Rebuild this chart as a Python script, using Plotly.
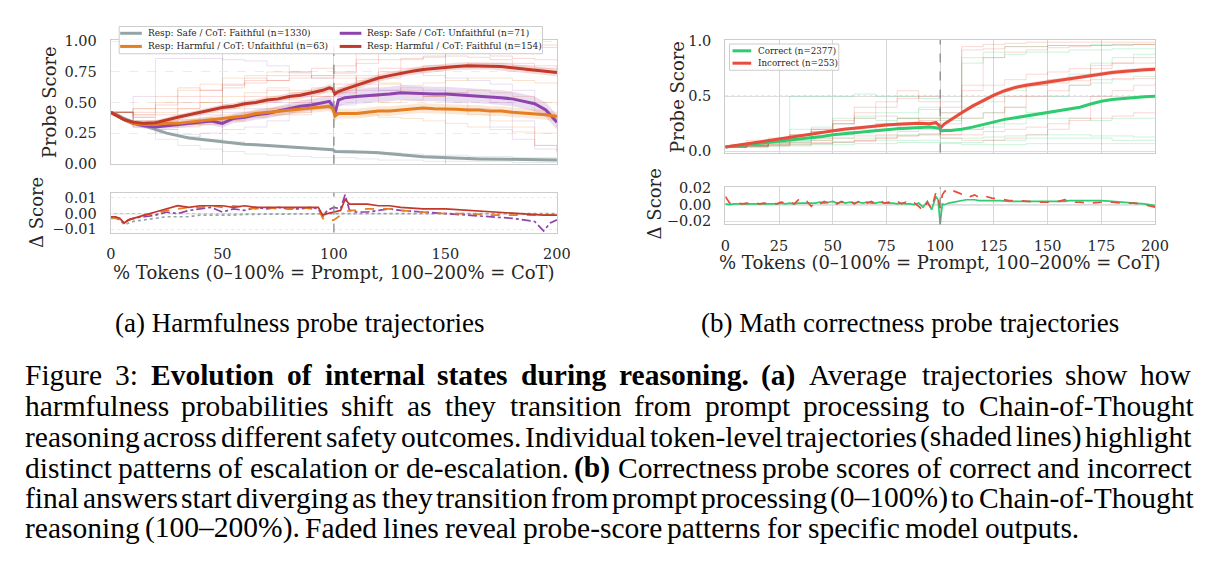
import re
import plotly.graph_objects as go

# ======================= DATA =======================
# ---- (a) Harmfulness probe: mean trajectories ----
x_main = [0, 3, 6, 10, 15, 20, 25, 30, 35, 40, 45, 50, 55, 60, 65, 70, 75, 80, 85, 90, 95,
          98, 99.5, 100.5, 102, 105, 110, 115, 120, 125, 130, 135, 140, 145, 150,
          155, 160, 165, 170, 175, 180, 185, 190, 195, 200]
safe_faithful = [0.42, 0.40, 0.37, 0.34, 0.31, 0.28, 0.25, 0.23, 0.21, 0.20,
                 0.19, 0.175, 0.17, 0.16, 0.155, 0.15, 0.14, 0.135, 0.13, 0.125,
                 0.12, 0.12, 0.115, 0.10, 0.10, 0.10, 0.10, 0.095, 0.09, 0.08,
                 0.07, 0.065, 0.058, 0.053, 0.05, 0.046, 0.043, 0.04, 0.038, 0.036,
                 0.034, 0.032, 0.031, 0.03, 0.03]
safe_unfaithful = [0.42, 0.39, 0.36, 0.33, 0.31, 0.30, 0.31, 0.32, 0.33, 0.34,
                   0.35, 0.33, 0.37, 0.38, 0.40, 0.41, 0.43, 0.45, 0.47, 0.48,
                   0.50, 0.51, 0.47, 0.41, 0.52, 0.54, 0.55, 0.555, 0.56, 0.57,
                   0.58, 0.575, 0.57, 0.57, 0.57, 0.565, 0.56, 0.555, 0.55, 0.54,
                   0.53, 0.51, 0.49, 0.44, 0.34]
harmful_unfaithful = [0.42, 0.39, 0.36, 0.33, 0.32, 0.32, 0.33, 0.33, 0.34, 0.35,
                      0.36, 0.37, 0.38, 0.39, 0.41, 0.42, 0.43, 0.44, 0.45, 0.46,
                      0.465, 0.47, 0.45, 0.39, 0.41, 0.41, 0.41, 0.42, 0.43, 0.43,
                      0.44, 0.45, 0.455, 0.45, 0.45, 0.445, 0.44, 0.44, 0.43, 0.43,
                      0.42, 0.415, 0.41, 0.40, 0.385]
harmful_faithful = [0.42, 0.39, 0.36, 0.34, 0.33, 0.335, 0.36, 0.38, 0.40, 0.42,
                    0.44, 0.46, 0.47, 0.49, 0.50, 0.52, 0.53, 0.55, 0.56, 0.58,
                    0.60, 0.62, 0.61, 0.57, 0.59, 0.61, 0.64, 0.67, 0.70, 0.72,
                    0.74, 0.755, 0.77, 0.78, 0.79, 0.795, 0.80, 0.80, 0.80, 0.795,
                    0.785, 0.775, 0.765, 0.755, 0.745]
# half-widths of the shaded confidence bands
safe_faithful_err = [0.008, 0.008, 0.008, 0.008, 0.008, 0.008, 0.008, 0.008, 0.008, 0.008,
                     0.008, 0.008, 0.008, 0.008, 0.008, 0.008, 0.008, 0.008, 0.008, 0.008,
                     0.008, 0.008, 0.008, 0.008, 0.008, 0.008, 0.008, 0.008, 0.008, 0.008,
                     0.008, 0.008, 0.008, 0.008, 0.008, 0.008, 0.008, 0.008, 0.008, 0.008,
                     0.008, 0.008, 0.008, 0.008, 0.008]
safe_unfaithful_err = [0.01, 0.012, 0.015, 0.02, 0.022, 0.025, 0.028, 0.03, 0.03, 0.032,
                       0.034, 0.035, 0.036, 0.038, 0.04, 0.04, 0.042, 0.044, 0.045, 0.046,
                       0.048, 0.05, 0.05, 0.05, 0.055, 0.055, 0.06, 0.06, 0.06, 0.06,
                       0.06, 0.06, 0.06, 0.06, 0.06, 0.06, 0.06, 0.06, 0.06, 0.06,
                       0.06, 0.06, 0.06, 0.06, 0.06]
harmful_unfaithful_err = [0.01, 0.012, 0.015, 0.018, 0.02, 0.022, 0.025, 0.026, 0.028, 0.03,
                          0.03, 0.032, 0.033, 0.034, 0.035, 0.036, 0.037, 0.038, 0.04, 0.04,
                          0.04, 0.04, 0.04, 0.04, 0.04, 0.04, 0.04, 0.04, 0.04, 0.04,
                          0.04, 0.04, 0.04, 0.04, 0.04, 0.04, 0.04, 0.04, 0.04, 0.04,
                          0.04, 0.04, 0.04, 0.04, 0.04]
harmful_faithful_err = [0.01, 0.01, 0.012, 0.015, 0.018, 0.02, 0.02, 0.022, 0.022, 0.024,
                        0.025, 0.025, 0.026, 0.026, 0.027, 0.027, 0.028, 0.028, 0.028, 0.03,
                        0.03, 0.03, 0.03, 0.03, 0.03, 0.03, 0.03, 0.03, 0.03, 0.03,
                        0.03, 0.03, 0.03, 0.03, 0.03, 0.03, 0.03, 0.03, 0.03, 0.03,
                        0.03, 0.03, 0.03, 0.03, 0.03]

# ---- (a) faded individual trajectories (sampled every 10 %) ----
x_faded = [0, 10, 20, 30, 40, 50, 60, 70, 80, 90, 100, 110, 120, 130, 140, 150, 160, 170, 180, 190, 200]
harm_faded = [
    ("red",    [0.42, 0.45, 0.55, 0.62, 0.60, 0.65, 0.70, 0.68, 0.72, 0.70, 0.75, 0.85, 0.90, 0.92, 0.93, 0.93, 0.94, 0.94, 0.95, 0.95, 0.95]),
    ("red",    [0.42, 0.38, 0.40, 0.45, 0.50, 0.48, 0.55, 0.60, 0.58, 0.62, 0.65, 0.70, 0.78, 0.85, 0.88, 0.90, 0.90, 0.88, 0.86, 0.85, 0.84]),
    ("orange", [0.42, 0.35, 0.33, 0.40, 0.42, 0.45, 0.50, 0.55, 0.52, 0.55, 0.60, 0.62, 0.65, 0.64, 0.66, 0.68, 0.70, 0.70, 0.68, 0.66, 0.65]),
    ("purple", [0.42, 0.55, 0.86, 0.86, 0.86, 0.85, 0.84, 0.80, 0.75, 0.70, 0.72, 0.65, 0.60, 0.58, 0.55, 0.50, 0.45, 0.30, 0.20, 0.12, 0.10]),
    ("orange", [0.42, 0.30, 0.28, 0.30, 0.32, 0.35, 0.38, 0.40, 0.42, 0.45, 0.42, 0.40, 0.38, 0.37, 0.35, 0.33, 0.30, 0.28, 0.26, 0.25, 0.25]),
    ("red",    [0.42, 0.40, 0.45, 0.50, 0.55, 0.62, 0.68, 0.72, 0.75, 0.78, 0.80, 0.82, 0.85, 0.86, 0.87, 0.88, 0.87, 0.85, 0.82, 0.80, 0.78]),
    ("purple", [0.42, 0.30, 0.25, 0.22, 0.25, 0.28, 0.30, 0.35, 0.40, 0.45, 0.48, 0.55, 0.60, 0.62, 0.60, 0.58, 0.55, 0.50, 0.35, 0.15, 0.08]),
    ("gray",   [0.42, 0.30, 0.20, 0.15, 0.12, 0.10, 0.08, 0.07, 0.06, 0.05, 0.05, 0.04, 0.03, 0.03, 0.02, 0.02, 0.02, 0.02, 0.01, 0.01, 0.01]),
    ("orange", [0.42, 0.45, 0.50, 0.60, 0.65, 0.70, 0.72, 0.75, 0.74, 0.72, 0.70, 0.68, 0.66, 0.60, 0.55, 0.45, 0.40, 0.35, 0.30, 0.15, 0.10]),
    ("red",    [0.42, 0.35, 0.30, 0.32, 0.35, 0.38, 0.42, 0.45, 0.50, 0.55, 0.58, 0.72, 0.75, 0.78, 0.80, 0.80, 0.82, 0.82, 0.80, 0.78, 0.75]),
    ("purple", [0.42, 0.38, 0.35, 0.36, 0.40, 0.42, 0.45, 0.50, 0.55, 0.50, 0.55, 0.60, 0.70, 0.75, 0.72, 0.70, 0.68, 0.65, 0.60, 0.40, 0.30]),
    ("gray",   [0.42, 0.35, 0.28, 0.24, 0.20, 0.18, 0.15, 0.14, 0.13, 0.12, 0.11, 0.10, 0.09, 0.08, 0.07, 0.07, 0.06, 0.06, 0.05, 0.05, 0.05]),
    ("orange", [0.42, 0.40, 0.42, 0.45, 0.50, 0.55, 0.58, 0.62, 0.60, 0.58, 0.62, 0.55, 0.50, 0.52, 0.55, 0.58, 0.60, 0.58, 0.55, 0.50, 0.48]),
    ("red",    [0.42, 0.42, 0.48, 0.55, 0.60, 0.64, 0.66, 0.68, 0.70, 0.72, 0.74, 0.90, 0.92, 0.94, 0.95, 0.96, 0.96, 0.96, 0.97, 0.97, 0.97]),
]

# ---- (a) Delta score ----
x_delta_a = [0, 2, 4, 6, 8, 10, 15, 20, 25, 30, 35, 40, 45, 50, 55, 60, 65, 70, 75, 80, 85, 90,
             93, 95, 97, 100, 103, 105, 107, 110, 115, 120, 125, 130, 140, 150, 160, 170, 180, 190,
             194, 197, 200]
d_harmful_faithful = [-0.002, -0.002, -0.003, -0.006, -0.004, -0.003, -0.001, 0.001, 0.003, 0.005,
                      0.004, 0.005, 0.005, 0.005, 0.004, 0.005, 0.004, 0.004, 0.004, 0.004,
                      0.004, 0.004, 0.004, -0.001, 0.000, 0.001, 0.002, 0.009, 0.006, 0.006,
                      0.006, 0.005, 0.005, 0.004, 0.003, 0.003, 0.002, 0.001, 0.000, -0.001,
                      -0.001, -0.001, -0.001]
d_harmful_unfaithful = [-0.002, -0.003, -0.003, -0.006, -0.004, -0.003, -0.001, 0.000, 0.002, 0.003,
                        0.004, 0.004, 0.005, 0.004, 0.005, 0.004, 0.003, 0.004, 0.003, 0.003,
                        0.004, 0.003, 0.003, -0.003, -0.005, -0.004, -0.001, 0.001, 0.002, 0.002,
                        0.003, 0.003, 0.003, 0.002, 0.001, 0.000, 0.000, -0.001, -0.001, -0.001,
                        -0.001, -0.001, -0.001]
d_safe_unfaithful = [-0.002, -0.002, -0.004, -0.006, -0.004, -0.003, -0.002, -0.001, 0.001, 0.000,
                     0.002, 0.003, 0.004, 0.001, 0.003, 0.002, 0.004, 0.003, 0.004, 0.003,
                     0.003, 0.004, 0.003, -0.002, 0.002, 0.004, 0.003, 0.012, 0.002, 0.001,
                     0.001, 0.002, 0.003, 0.002, 0.001, 0.000, -0.001, -0.002, -0.003, -0.005,
                     -0.011, -0.006, -0.004]
d_safe_faithful = [-0.003, -0.003, -0.004, -0.007, -0.006, -0.005, -0.004, -0.003, -0.002, -0.002,
                   -0.002, -0.001, -0.001, -0.001, -0.001, -0.0005, -0.0005, -0.0004, -0.0003, -0.0003,
                   -0.0002, -0.0002, -0.0002, -0.0001, 0.0, 0.0, 0.0, 0.0, 0.0, 0.0,
                   0.0, 0.0, 0.0, 0.0, 0.0, 0.0, 0.0, 0.0, 0.0, 0.0,
                   0.0, 0.0, 0.0]

# ---- (b) Math correctness probe: mean trajectories ----
x_math = [0, 5, 10, 15, 20, 25, 30, 35, 40, 45, 50, 55, 60, 65, 70, 75, 80, 85, 90, 95,
          98, 99.5, 100.5, 102, 105, 110, 115, 120, 125, 130, 135, 140, 145, 150,
          155, 160, 165, 170, 175, 180, 185, 190, 195, 200]
correct_mean = [0.04, 0.05, 0.06, 0.07, 0.08, 0.09, 0.10, 0.11, 0.12, 0.135,
                0.15, 0.16, 0.17, 0.18, 0.19, 0.20, 0.205, 0.21, 0.215, 0.22,
                0.215, 0.21, 0.185, 0.19, 0.19,
                0.20, 0.22, 0.245, 0.27, 0.29, 0.305, 0.32, 0.335, 0.35,
                0.365, 0.38, 0.40, 0.43, 0.455, 0.47, 0.48, 0.49, 0.495, 0.50]
incorrect_mean = [0.04, 0.055, 0.07, 0.085, 0.10, 0.115, 0.13, 0.145, 0.16, 0.175,
                  0.185, 0.20, 0.21, 0.22, 0.235, 0.24, 0.245, 0.25, 0.255, 0.25,
                  0.26, 0.235, 0.22, 0.25, 0.29,
                  0.35, 0.41, 0.46, 0.51, 0.55, 0.58, 0.60, 0.615, 0.63,
                  0.645, 0.66, 0.675, 0.69, 0.705, 0.715, 0.725, 0.735, 0.74, 0.745]
incorrect_err = [0.004, 0.005, 0.006, 0.007, 0.008, 0.009, 0.01, 0.01, 0.011, 0.011,
                 0.012, 0.012, 0.013, 0.013, 0.014, 0.014, 0.015, 0.015, 0.015, 0.015,
                 0.015, 0.015, 0.015, 0.016, 0.017,
                 0.018, 0.019, 0.02, 0.02, 0.02, 0.02, 0.02, 0.02, 0.02,
                 0.02, 0.02, 0.02, 0.02, 0.02, 0.02, 0.02, 0.02, 0.02, 0.02]
correct_err = [0.002, 0.002, 0.002, 0.003, 0.003, 0.003, 0.003, 0.004, 0.004, 0.004,
               0.004, 0.004, 0.005, 0.005, 0.005, 0.005, 0.005, 0.005, 0.005, 0.005,
               0.005, 0.005, 0.005, 0.005, 0.005,
               0.005, 0.006, 0.006, 0.006, 0.006, 0.006, 0.006, 0.006, 0.006,
               0.006, 0.006, 0.006, 0.006, 0.006, 0.006, 0.006, 0.006, 0.006, 0.006]

math_faded = [
    ("green", [0.04, 0.05, 0.08, 0.50, 0.50, 0.50, 0.52, 0.50, 0.50, 0.48, 0.45, 0.80, 0.85, 0.88, 0.90, 0.90, 0.92, 0.92, 0.93, 0.93, 0.93]),
    ("green", [0.04, 0.05, 0.06, 0.08, 0.10, 0.12, 0.12, 0.14, 0.15, 0.15, 0.12, 0.12, 0.13, 0.14, 0.15, 0.15, 0.15, 0.14, 0.14, 0.13, 0.13]),
    ("green", [0.04, 0.06, 0.10, 0.15, 0.20, 0.30, 0.32, 0.35, 0.35, 0.38, 0.30, 0.40, 0.45, 0.55, 0.60, 0.65, 0.70, 0.80, 0.85, 0.88, 0.90]),
    ("green", [0.04, 0.04, 0.05, 0.06, 0.07, 0.08, 0.09, 0.10, 0.10, 0.10, 0.08, 0.08, 0.10, 0.10, 0.12, 0.12, 0.12, 0.12, 0.10, 0.10, 0.10]),
    ("green", [0.04, 0.05, 0.10, 0.20, 0.22, 0.25, 0.30, 0.28, 0.30, 0.30, 0.28, 0.30, 0.35, 0.40, 0.35, 0.30, 0.30, 0.28, 0.30, 0.30, 0.30]),
    ("green", [0.04, 0.06, 0.08, 0.10, 0.12, 0.15, 0.18, 0.20, 0.22, 0.25, 0.20, 0.20, 0.22, 0.25, 0.30, 0.50, 0.60, 0.62, 0.65, 0.68, 0.70]),
    ("green", [0.04, 0.04, 0.05, 0.05, 0.06, 0.06, 0.07, 0.07, 0.08, 0.08, 0.07, 0.06, 0.06, 0.06, 0.07, 0.07, 0.07, 0.07, 0.07, 0.07, 0.07]),
    ("green", [0.04, 0.05, 0.07, 0.10, 0.14, 0.18, 0.20, 0.25, 0.30, 0.40, 0.35, 0.85, 0.90, 0.95, 0.95, 0.96, 0.96, 0.97, 0.97, 0.97, 0.97]),
    ("red",   [0.04, 0.10, 0.12, 0.15, 0.20, 0.25, 0.30, 0.32, 0.30, 0.28, 0.30, 0.95, 0.97, 0.98, 0.99, 0.99, 0.99, 0.99, 0.99, 0.99, 0.99]),
    ("red",   [0.04, 0.05, 0.08, 0.12, 0.18, 0.25, 0.40, 0.45, 0.48, 0.50, 0.35, 0.60, 0.85, 0.90, 0.92, 0.94, 0.95, 0.96, 0.96, 0.97, 0.97]),
    ("red",   [0.04, 0.06, 0.10, 0.15, 0.18, 0.20, 0.22, 0.25, 0.25, 0.30, 0.25, 0.30, 0.35, 0.40, 0.50, 0.55, 0.60, 0.75, 0.80, 0.85, 0.85]),
    ("red",   [0.04, 0.05, 0.06, 0.08, 0.10, 0.12, 0.14, 0.15, 0.18, 0.20, 0.15, 0.15, 0.18, 0.20, 0.22, 0.25, 0.28, 0.30, 0.32, 0.35, 0.35]),
    ("red",   [0.04, 0.06, 0.10, 0.14, 0.20, 0.28, 0.35, 0.40, 0.55, 0.45, 0.40, 0.92, 0.93, 0.95, 0.95, 0.96, 0.96, 0.96, 0.97, 0.97, 0.97]),
    ("red",   [0.04, 0.05, 0.07, 0.09, 0.12, 0.15, 0.18, 0.20, 0.22, 0.22, 0.20, 0.55, 0.60, 0.65, 0.70, 0.72, 0.75, 0.78, 0.80, 0.80, 0.80]),
    ("red",   [0.04, 0.04, 0.05, 0.06, 0.07, 0.08, 0.10, 0.12, 0.14, 0.15, 0.12, 0.10, 0.10, 0.12, 0.15, 0.20, 0.30, 0.50, 0.55, 0.60, 0.62]),
    ("red",   [0.04, 0.05, 0.06, 0.07, 0.08, 0.09, 0.10, 0.12, 0.14, 0.16, 0.15, 0.20, 0.25, 0.50, 0.60, 0.62, 0.64, 0.65, 0.66, 0.66, 0.66]),
]

# ---- (b) Delta score ----
x_delta_b = list(range(0, 100, 2)) + [99, 100, 101, 102, 104, 106, 108, 110, 112, 114, 116, 118, 120,
                                      124, 128, 132, 136, 140, 145, 150, 155, 158, 160, 165, 170,
                                      175, 180, 185, 190, 195, 200]
d_incorrect = [0.010, 0.002, 0.001, 0.002, 0.001, 0.002, 0.001, 0.002, 0.001, 0.002,
               0.001, 0.002, 0.001, 0.003, 0.002, 0.004, 0.001, 0.006, 0.002, 0.004,
               -0.002, 0.003, 0.001, 0.004, 0.002, 0.005, 0.001, 0.004, 0.002, 0.005,
               0.001, 0.004, 0.007, 0.002, 0.004, 0.001, 0.005, 0.002, 0.003, 0.001,
               0.004, 0.001, 0.003, 0.000, 0.002, -0.002, -0.007, 0.003, -0.005, 0.015,
               0.008, -0.004, 0.012, 0.016, 0.020, 0.017, 0.015, 0.013, 0.014, 0.010,
               0.012, 0.009, 0.011, 0.008, 0.007, 0.005, 0.005, 0.004, 0.003, 0.003,
               0.004, 0.006, 0.003, 0.003, 0.002, 0.003, 0.003, 0.002, 0.002, 0.000, -0.003]
d_correct = [0.001, 0.000, 0.001, 0.001, 0.001, 0.001, 0.001, 0.001, 0.001, 0.001,
             0.001, 0.001, 0.001, 0.002, 0.001, 0.002, 0.001, 0.002, 0.002, 0.002,
             0.002, 0.002, 0.003, 0.002, 0.003, 0.004, 0.002, 0.003, 0.002, 0.003,
             0.002, 0.003, 0.002, 0.003, 0.002, 0.002, 0.003, 0.002, 0.002, 0.002,
             0.001, 0.002, 0.001, 0.001, 0.000, 0.002, -0.003, 0.004, -0.006, 0.010,
             0.006, -0.023, 0.001, 0.000, 0.002, 0.003, 0.004, 0.005, 0.006, 0.006,
             0.006, 0.005, 0.005, 0.005, 0.005, 0.004, 0.004, 0.004, 0.004, 0.004,
             0.004, 0.004, 0.005, 0.005, 0.005, 0.005, 0.004, 0.003, 0.002, 0.001, -0.001]

# ---- labels ----
harm_names = ["Resp: Safe / CoT: Faithful (n=1330)", "Resp: Safe / CoT: Unfaithful (n=71)",
              "Resp: Harmful / CoT: Unfaithful (n=63)", "Resp: Harmful / CoT: Faithful (n=154)"]
math_names = ["Correct (n=2377)", "Incorrect (n=253)"]
xticks_a = [0, 50, 100, 150, 200]
xticks_b = [0, 25, 50, 75, 100, 125, 150, 175, 200]
prompt_end = 100
x_title = "% Tokens (0–100% = Prompt, 100–200% = CoT)"
subcap_a = "(a) Harmfulness probe trajectories"
subcap_b = "(b) Math correctness probe trajectories"
caption_lines = [
    "Figure 3: <b>Evolution of internal states during reasoning.</b> <b>(a)</b> Average trajectories show how",
    "harmfulness probabilities shift as they transition from prompt processing to Chain-of-Thought",
    "reasoning across different safety outcomes. Individual token-level trajectories (shaded lines) highlight",
    "distinct patterns of escalation or de-escalation. <b>(b)</b> Correctness probe scores of correct and incorrect",
    "final answers start diverging as they transition from prompt processing (0–100%) to Chain-of-Thought",
    "reasoning (100–200%). Faded lines reveal probe-score patterns for specific model outputs.",
]

# ======================= STYLE =======================
W, H = 1220, 571
FONT = "DejaVu Serif"
CAPFONT = "Liberation Serif"
C_GRAY, C_PURPLE, C_ORANGE, C_DRED = "#95a5a6", "#8e44ad", "#e67e22", "#c0392b"
C_GREEN, C_RED = "#2ecc71", "#e74c3c"
faded_col = {"red": "rgba(231,76,60,0.28)", "orange": "rgba(230,126,34,0.28)",
             "purple": "rgba(142,68,173,0.22)", "gray": "rgba(149,165,166,0.3)",
             "green": "rgba(46,204,113,0.3)"}
band_col = {C_GRAY: "rgba(149,165,166,0.25)", C_PURPLE: "rgba(142,68,173,0.18)",
            C_ORANGE: "rgba(230,126,34,0.18)", C_DRED: "rgba(192,57,43,0.18)",
            C_GREEN: "rgba(46,204,113,0.2)", C_RED: "rgba(231,76,60,0.2)"}


def px(x):
    return x / W


def py(y):
    return 1 - y / H


fig = go.Figure()


def add_band(xs, ys, es, color, xa, ya):
    upper = [y + e for y, e in zip(ys, es)]
    lower = [y - e for y, e in zip(ys, es)]
    fig.add_trace(go.Scatter(x=list(xs) + list(xs)[::-1], y=upper + lower[::-1], fill="toself",
                             fillcolor=band_col[color], line=dict(width=0), mode="lines",
                             hoverinfo="skip", showlegend=False, xaxis=xa, yaxis=ya))


# ---- panel (a) top ----
for cname, vals in harm_faded:
    fig.add_trace(go.Scatter(x=x_faded, y=vals, mode="lines", line=dict(color=faded_col[cname], width=0.8, shape="hv"),
                             showlegend=False, hoverinfo="skip", xaxis="x", yaxis="y"))
harm_series = [(safe_faithful, safe_faithful_err, C_GRAY),
               (safe_unfaithful, safe_unfaithful_err, C_PURPLE),
               (harmful_unfaithful, harmful_unfaithful_err, C_ORANGE),
               (harmful_faithful, harmful_faithful_err, C_DRED)]
for ys, es, col in harm_series:
    add_band(x_main, ys, es, col, "x", "y")
for (ys, es, col), name in zip(harm_series, harm_names):
    fig.add_trace(go.Scatter(x=x_main, y=ys, mode="lines", name=name, line=dict(color=col, width=3),
                             showlegend=False, xaxis="x", yaxis="y"))

# ---- panel (a) bottom ----
delta_a = [(d_safe_faithful, C_GRAY, "dot"), (d_safe_unfaithful, C_PURPLE, "dashdot"),
           (d_harmful_unfaithful, C_ORANGE, "dash"), (d_harmful_faithful, C_DRED, "solid")]
for ys, col, dash in delta_a:
    fig.add_trace(go.Scatter(x=x_delta_a, y=ys, mode="lines", line=dict(color=col, width=1.7, dash=dash),
                             showlegend=False, xaxis="x2", yaxis="y2"))

# ---- panel (b) top ----
for cname, vals in math_faded:
    fig.add_trace(go.Scatter(x=x_faded, y=vals, mode="lines", line=dict(color=faded_col[cname], width=0.8, shape="hv"),
                             showlegend=False, hoverinfo="skip", xaxis="x3", yaxis="y3"))
add_band(x_math, correct_mean, correct_err, C_GREEN, "x3", "y3")
add_band(x_math, incorrect_mean, incorrect_err, C_RED, "x3", "y3")
fig.add_trace(go.Scatter(x=x_math, y=correct_mean, mode="lines", name=math_names[0],
                         line=dict(color=C_GREEN, width=3), showlegend=False, xaxis="x3", yaxis="y3"))
fig.add_trace(go.Scatter(x=x_math, y=incorrect_mean, mode="lines", name=math_names[1],
                         line=dict(color=C_RED, width=3), showlegend=False, xaxis="x3", yaxis="y3"))

# ---- panel (b) bottom ----
fig.add_trace(go.Scatter(x=x_delta_b, y=d_correct, mode="lines", line=dict(color=C_GREEN, width=1.7),
                         showlegend=False, xaxis="x4", yaxis="y4"))
fig.add_trace(go.Scatter(x=x_delta_b, y=d_incorrect, mode="lines", line=dict(color=C_RED, width=1.7, dash="dash"),
                         showlegend=False, xaxis="x4", yaxis="y4"))

# ======================= AXES =======================
tickfont = dict(family=FONT, size=14.5, color="#262626")


def ax(**kw):
    d = dict(showline=True, mirror=True, linecolor="#cccccc", linewidth=1.3, zeroline=False,
             ticks="", tickfont=tickfont, fixedrange=True)
    d.update(kw)
    return d


XA = [px(107.5), px(560.7)]
XB = [px(731.7), px(1168.3)]
fig.update_layout(
    xaxis=ax(domain=XA, anchor="y", range=[0, 200], tickvals=xticks_a, showticklabels=False,
             showgrid=True, gridcolor="#d6d6d6", gridwidth=1.2),
    yaxis=ax(domain=[py(161), py(34)], anchor="x", range=[0, 1.01], tickvals=[0, 0.25, 0.5, 0.75, 1.0],
             ticktext=["0.00", "0.25", "0.50", "0.75", "1.00"], showgrid=True, gridcolor="#ececec",
             griddash="dash", ticklabelstandoff=10),
    xaxis2=ax(domain=XA, anchor="y2", range=[0, 200], tickvals=xticks_a, ticktext=[str(v) for v in xticks_a],
              showgrid=False, ticklabelstandoff=8),
    yaxis2=ax(domain=[py(231.7), py(190.7)], anchor="x2", range=[-0.0121, 0.0133], tickvals=[-0.01, 0, 0.01],
              ticktext=["\u22120.01", "0.00", "0.01"], showgrid=True, gridcolor="#ececec", griddash="dot",
              ticklabelstandoff=10),
    xaxis3=ax(domain=XB, anchor="y3", range=[0, 200], tickvals=xticks_b, showticklabels=False,
              showgrid=True, gridcolor="#d6d6d6", gridwidth=1.2),
    yaxis3=ax(domain=[py(149.5), py(34)], anchor="x3", range=[-0.011, 1.009], tickvals=[0, 0.5, 1.0],
              ticktext=["0.0", "0.5", "1.0"], showgrid=True, gridcolor="#dddddd", ticklabelstandoff=10),
    xaxis4=ax(domain=XB, anchor="y4", range=[0, 200], tickvals=xticks_b, ticktext=[str(v) for v in xticks_b],
              showgrid=True, gridcolor="#d6d6d6", gridwidth=1.2, ticklabelstandoff=8),
    yaxis4=ax(domain=[py(223.3), py(185.3)], anchor="x4", range=[-0.024, 0.021], tickvals=[-0.02, 0, 0.02],
              ticktext=["\u22120.02", "0.00", "0.02"], showgrid=True, gridcolor="#dddddd", ticklabelstandoff=10),
)

# ======================= SHAPES (reference lines) =======================
shapes = []
for xa, ya in [("x", "y"), ("x2", "y2"), ("x3", "y3"), ("x4", "y4")]:
    shapes.append(dict(type="line", xref=xa, yref=ya + " domain", x0=prompt_end, x1=prompt_end, y0=0, y1=1,
                       line=dict(color="#8a8a8a", width=1.3, dash="dash"), layer="above"))
shapes.append(dict(type="line", xref="x3 domain", yref="y3", x0=0, x1=1, y0=0.5, y1=0.5,
                   line=dict(color="#9a9a9a", width=1.2, dash="dot"), layer="below"))
shapes.append(dict(type="line", xref="x2 domain", yref="y2", x0=0, x1=1, y0=0, y1=0,
                   line=dict(color="#c4c4c4", width=1.3), layer="below"))
shapes.append(dict(type="line", xref="x4 domain", yref="y4", x0=0, x1=1, y0=0, y1=0,
                   line=dict(color="#9a9a9a", width=1.2), layer="below"))

# ---- manual legends (matplotlib-style compact boxes) ----
shapes.append(dict(type="rect", xref="paper", yref="paper", x0=px(116), x1=px(546), y0=py(48), y1=py(20),
                   fillcolor="rgba(255,255,255,0.85)", line=dict(color="#cccccc", width=1), layer="above"))
shapes.append(dict(type="rect", xref="paper", yref="paper", x0=px(736), x1=px(847), y0=py(65), y1=py(38),
                   fillcolor="rgba(255,255,255,0.85)", line=dict(color="#cccccc", width=1), layer="above"))

annotations = []
leg_a_pos = [(117, 27), (340, 27), (117, 40.5), (340, 40.5)]
leg_a_cols = [C_GRAY, C_PURPLE, C_ORANGE, C_DRED]
for (lx, ly), col, name in zip(leg_a_pos, leg_a_cols, harm_names):
    shapes.append(dict(type="line", xref="paper", yref="paper", x0=px(lx), x1=px(lx + 22), y0=py(ly), y1=py(ly),
                       line=dict(color=col, width=3), layer="above"))
    annotations.append(dict(text=name, xref="paper", yref="paper", x=px(lx + 26), y=py(ly), xanchor="left",
                            yanchor="middle", showarrow=False, font=dict(family=FONT, size=9, color="#262626")))
leg_b_pos = [(739, 45), (739, 57.7)]
for (lx, ly), col, name in zip(leg_b_pos, [C_GREEN, C_RED], math_names):
    shapes.append(dict(type="line", xref="paper", yref="paper", x0=px(lx), x1=px(lx + 19), y0=py(ly), y1=py(ly),
                       line=dict(color=col, width=3), layer="above"))
    annotations.append(dict(text=name, xref="paper", yref="paper", x=px(lx + 24), y=py(ly), xanchor="left",
                            yanchor="middle", showarrow=False, font=dict(family=FONT, size=8.7, color="#262626")))

# ---- axis titles ----
title_font = dict(family=FONT, size=18, color="#262626")
for text, x, y, ang in [("Probe Score", 46, 97.5, -90), ("\u0394 Score", 32, 211, -90),
                        (x_title, 334, 273, 0),
                        ("Probe Score", 683, 92, -90), ("\u0394 Score", 660, 202, -90),
                        (x_title, 950, 262, 0)]:
    annotations.append(dict(text=text, xref="paper", yref="paper", x=px(x), y=py(y), xanchor="center",
                            yanchor="middle", showarrow=False, textangle=ang, font=title_font))

# ======================= CAPTION (justified like LaTeX) =======================
# Times / Liberation Serif advance widths (per 1000 em)
REG = dict(zip("abcdefghijklmnopqrstuvwxyz",
               [444, 500, 444, 500, 444, 333, 500, 500, 278, 278, 500, 278, 778, 500, 500, 500, 500, 333, 389,
                278, 500, 500, 722, 500, 500, 444]))
REG.update(dict(zip("ABCDEFGHIJKLMNOPQRSTUVWXYZ",
                    [722, 667, 667, 722, 611, 556, 722, 722, 333, 389, 722, 611, 889, 722, 722, 556, 722, 667,
                     556, 611, 722, 722, 944, 722, 722, 611])))
REG.update({c: 500 for c in "0123456789"})
REG.update({" ": 250, "(": 333, ")": 333, ".": 250, ",": 250, ":": 278, "-": 333, "\u2013": 500, "%": 833})
BOLD = dict(zip("abcdefghijklmnopqrstuvwxyz",
                [500, 556, 444, 556, 444, 333, 500, 556, 278, 333, 556, 278, 833, 556, 500, 556, 556, 444, 389,
                 333, 556, 500, 722, 500, 500, 444]))
BOLD.update({"E": 667, "(": 333, ")": 333, ".": 250, " ": 250})


def tokens(line):
    out, bold = [], False
    for part in re.split(r"(<b>|</b>)", line):
        if part == "<b>":
            bold = True
        elif part == "</b>":
            bold = False
        else:
            for w in part.split():
                out.append((w, bold))
    return out


def word_w(w, bold, size):
    tab = BOLD if bold else REG
    return sum(tab.get(c, REG.get(c, 500)) for c in w) * size / 1000.0


CAP_SIZE = 29.5
CAP_LEFT, CAP_RIGHT = 18, 1202
line_y = [378, 410, 441.5, 473, 504, 535]
for i, (line, y) in enumerate(zip(caption_lines, line_y)):
    toks = tokens(line)
    widths = [word_w(w, b, CAP_SIZE) for w, b in toks]
    if i < len(caption_lines) - 1:
        gap = (CAP_RIGHT - CAP_LEFT - sum(widths)) / (len(toks) - 1)
    else:
        gap = 0.25 * CAP_SIZE
    xcur = CAP_LEFT
    for (w, b), wd in zip(toks, widths):
        annotations.append(dict(text=f"<b>{w}</b>" if b else w, xref="paper", yref="paper", x=px(xcur),
                                y=py(y), xanchor="left", yanchor="middle", showarrow=False,
                                font=dict(family=CAPFONT, size=CAP_SIZE, color="black")))
        xcur += wd + gap

sub_font = dict(family=CAPFONT, size=27, color="black")
annotations.append(dict(text=subcap_a, xref="paper", yref="paper", x=px(300), y=py(325), xanchor="center",
                        yanchor="middle", showarrow=False, font=sub_font))
annotations.append(dict(text=subcap_b, xref="paper", yref="paper", x=px(919), y=py(325), xanchor="center",
                        yanchor="middle", showarrow=False, font=sub_font))

fig.update_layout(width=W, height=H, margin=dict(l=0, r=0, t=0, b=0), paper_bgcolor="white",
                  plot_bgcolor="white", showlegend=False, shapes=shapes, annotations=annotations,
                  font=dict(family=FONT))
fig.write_html("out.html")
